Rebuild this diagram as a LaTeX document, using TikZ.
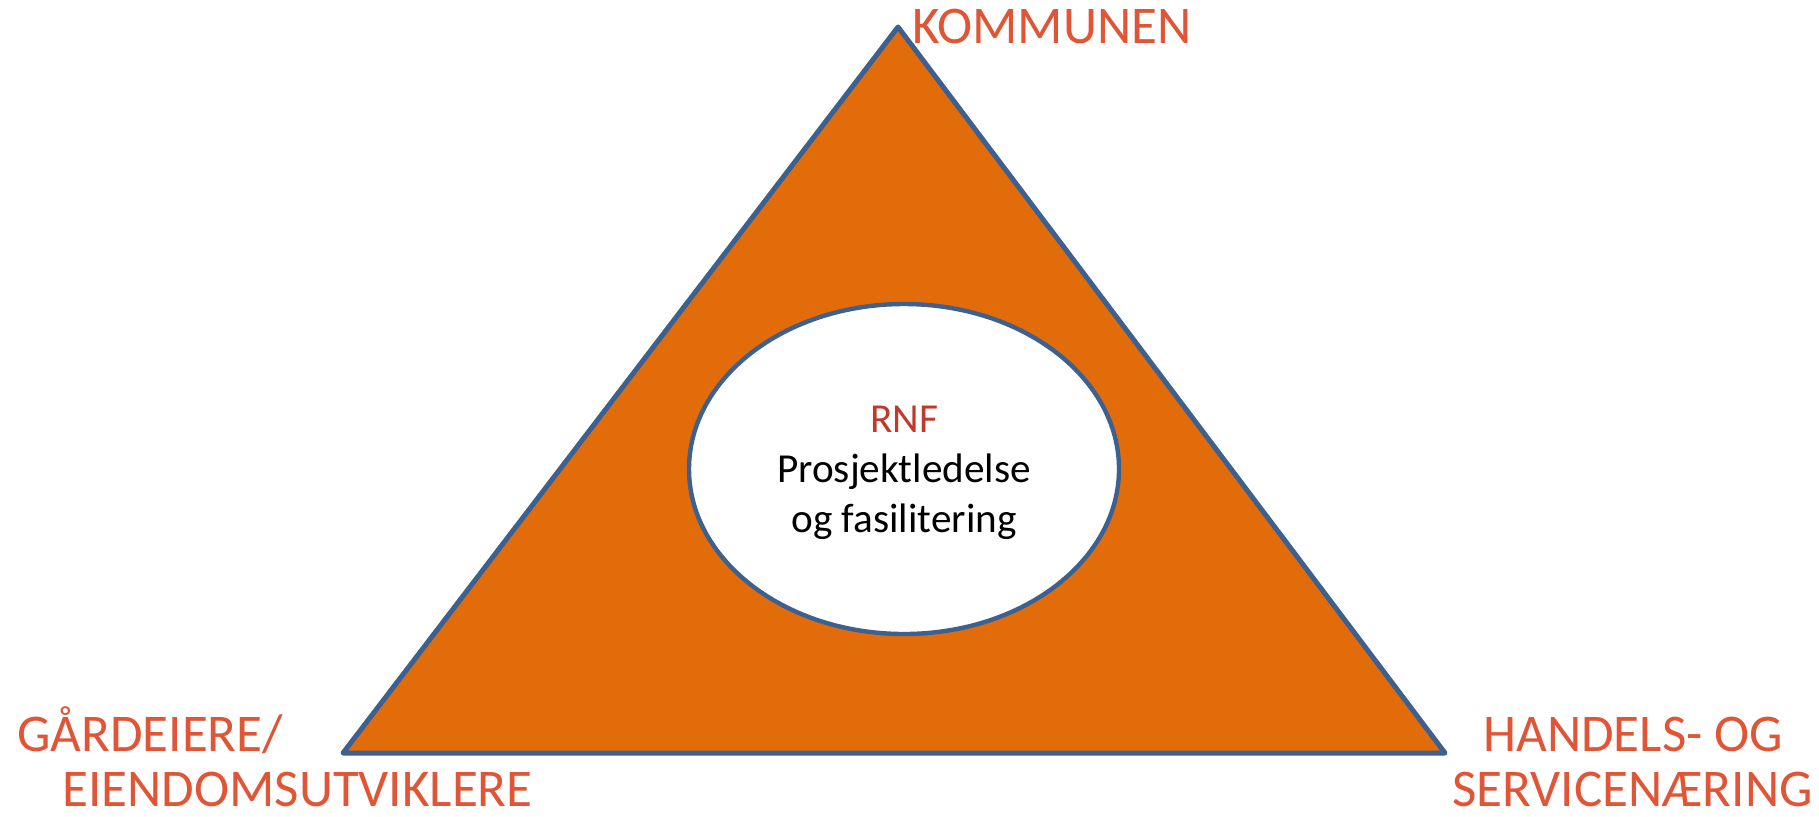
\documentclass[tikz,border=0pt]{standalone}
\usepackage{fontspec}
\setmainfont{Carlito}
\usetikzlibrary{shapes.geometric}
\definecolor{edge}{HTML}{3C6190}
\definecolor{fillor}{HTML}{E36C0A}
\definecolor{lab}{HTML}{E05535}
\definecolor{rnf}{HTML}{C0392B}
\tikzset{
  px/.style={x=0.5pt,y=-0.5pt},
  label/.style={text=lab,font=\fontsize{26.5}{27}\selectfont,inner sep=0pt,anchor=base west},
  inner/.style={font=\fontsize{20.6}{22}\selectfont,inner sep=0pt,anchor=base},
  tri/.style={draw=edge,fill=fillor,line width=2.5pt,line join=round},
  oval/.style={ellipse,draw=edge,fill=white,line width=2.2pt,minimum width=215pt,minimum height=165pt,inner sep=0pt}
}
\begin{document}
\begin{tikzpicture}[px]
\useasboundingbox (0,0) rectangle (1819,816);
\coordinate (top) at (898,27);
\coordinate (bl) at (343,753);
\coordinate (br) at (1445,753);
\draw[tri] (top) -- (bl) -- (br) -- cycle;
\node[oval] (center) at (904,469) {};
\node[inner,text=rnf] (rnf) at (904,432) {RNF};
\node[inner] (p1) at (904,482) {Prosjektledelse};
\node[inner] (p2) at (904,532) {og fasilitering};
\node[label] (kom) at (912,43) {KOMMUNEN};
\node[label] (g1) at (17,751) {GÅRDEIERE/};
\node[label] (g2) at (62,806) {EIENDOMSUTVIKLERE};
\node[label] (h1) at (1483,751) {HANDELS- OG};
\node[label] (h2) at (1452,806) {SERVICENÆRING};
\end{tikzpicture}
\end{document}
